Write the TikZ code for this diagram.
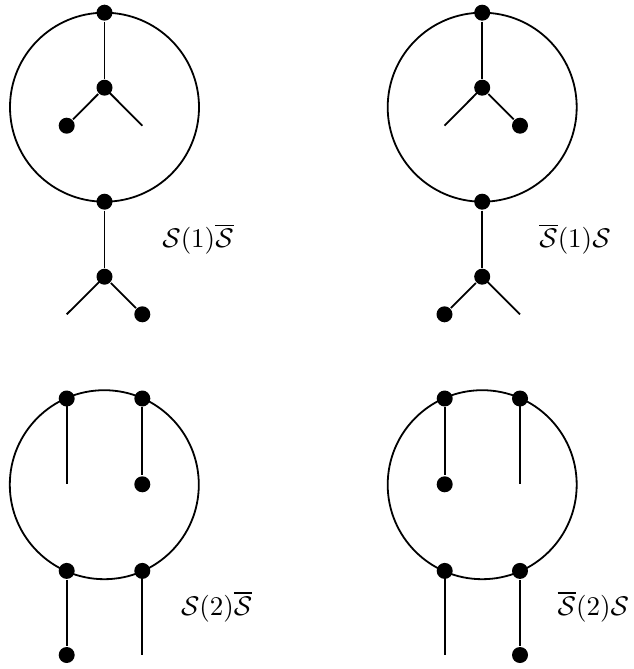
\documentclass[tikz,border=0pt]{standalone}
\begin{document}
\begin{tikzpicture}[x=1pt,y=-1pt,line width=1.8pt,
  dot/.style={circle,fill=black,inner sep=0pt,minimum size=16pt},
  ring/.style={circle,draw,inner sep=0pt,minimum size=189pt},
  lab/.style={inner sep=0pt,scale=2.7,transform shape}]
\useasboundingbox (0,0) rectangle (634,669);
% ---------- top left ----------
\node[ring] (c1) at (104.5,107.2) {};
\node[dot] (a1) at (104.5,12.7) {};
\node[dot] (a2) at (104.5,87.7) {};
\node[dot] (a3) at (66.7,125.7) {};
\coordinate (a4) at (142.3,125.7);
\node[dot] (a5) at (104.5,201.7) {};
\node[dot] (a6) at (104.5,276.7) {};
\coordinate (a7) at (66.7,314.3);
\node[dot] (a8) at (142.3,314.3) {};
\draw (a1) -- (a2); \draw (a2) -- (a3); \draw (a2.center) -- (a4);
\draw (a5) -- (a6); \draw (a6.center) -- (a7); \draw (a6) -- (a8);
\node[lab] (l1) at (198,239) {$\mathcal{S}(1)\overline{\mathcal{S}}$};
% ---------- top right ----------
\node[ring] (c2) at (482.2,107.2) {};
\node[dot] (b1) at (482.2,12.7) {};
\node[dot] (b2) at (482.2,87.7) {};
\coordinate (b3) at (444.5,125.7);
\node[dot] (b4) at (520,125.7) {};
\node[dot] (b5) at (482.2,201.7) {};
\node[dot] (b6) at (482.2,276.7) {};
\node[dot] (b7) at (444.5,314.3) {};
\coordinate (b8) at (520,314.3);
\draw (b1) -- (b2); \draw (b2.center) -- (b3); \draw (b2) -- (b4);
\draw (b5) -- (b6); \draw (b6) -- (b7); \draw (b6.center) -- (b8);
\node[lab] (l2) at (575,239) {$\overline{\mathcal{S}}(1)\mathcal{S}$};
% ---------- bottom left ----------
\node[ring] (c3) at (104.3,484.7) {};
\node[dot] (d1) at (66.7,398.5) {};
\node[dot] (d2) at (142.3,398.5) {};
\coordinate (d3) at (66.7,484.3);
\node[dot] (d4) at (142.3,484.3) {};
\node[dot] (d5) at (66.7,570.9) {};
\node[dot] (d6) at (142.3,570.9) {};
\node[dot] (d7) at (66.7,655) {};
\coordinate (d8) at (142.3,655);
\draw (d1.center) -- (d3); \draw (d2) -- (d4);
\draw (d5) -- (d7); \draw (d6.center) -- (d8);
\node[lab] (l3) at (216.7,606.7) {$\mathcal{S}(2)\overline{\mathcal{S}}$};
% ---------- bottom right ----------
\node[ring] (c4) at (482.2,484.7) {};
\node[dot] (e1) at (444.7,398.5) {};
\node[dot] (e2) at (520,398.5) {};
\node[dot] (e3) at (444.7,484.3) {};
\coordinate (e4) at (520,484.3);
\node[dot] (e5) at (444.7,570.9) {};
\node[dot] (e6) at (520,570.9) {};
\coordinate (e7) at (444.7,655);
\node[dot] (e8) at (520,655) {};
\draw (e1) -- (e3); \draw (e2.center) -- (e4);
\draw (e5.center) -- (e7); \draw (e6) -- (e8);
\node[lab] (l4) at (593.3,606.7) {$\overline{\mathcal{S}}(2)\mathcal{S}$};
\end{tikzpicture}
\end{document}
